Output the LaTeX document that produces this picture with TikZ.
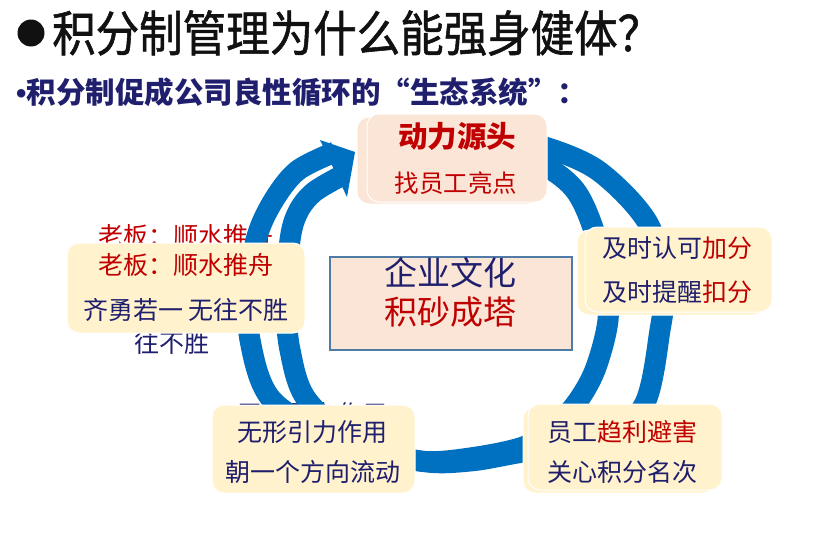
\documentclass[tikz,border=0pt]{standalone}
\usepackage{fontspec}
\usepackage{graphicx}
\setmainfont{Noto Sans CJK SC}
\newfontfamily\titlefont[FakeBold=1.2]{Noto Sans CJK SC}
\newfontfamily\latinfont{Liberation Sans}
\definecolor{ringblue}{HTML}{0070C0}
\definecolor{navy}{HTML}{1F1F6E}
\definecolor{dred}{HTML}{C00000}
\definecolor{peach}{HTML}{FBE5D6}
\definecolor{cream}{HTML}{FFF2CC}
\definecolor{steel}{HTML}{4F7BA6}
\definecolor{titleblack}{HTML}{111111}
\tikzset{
  band/.style={draw=ringblue, line width=21pt},
  card/.style={rounded corners=12pt, draw=white, line width=1pt, inner sep=0pt},
  tx/.style={inner sep=0pt, font=\fontsize{25}{25}\selectfont},
}
\begin{document}
\begin{tikzpicture}[x=1pt,y=-1pt]
\useasboundingbox (0,0) rectangle (837,557);
% title
\fill[titleblack] (31,33) circle (13.5);
\node[anchor=west, inner sep=0pt, text=titleblack, font=\fontsize{43.5}{43.5}\titlefont] (title) at (52,33) {\scalebox{1}[1.12]{积分制管理为什么能强身健体？}};
\node[anchor=west, inner sep=0pt, text=navy, font=\fontsize{29.5}{29.5}\selectfont\bfseries] (sub) at (16,92) {{\latinfont •}积分制促成公司良性循环的“生态系统”：};
% hidden back texts
\node[tx, text=dred] (back1) at (185.5,236) {老板：顺水推舟};
\node[tx, text=navy] (back2) at (172,343) {往不胜};
\node[tx, text=navy] (back3) at (312,414) {无形引力作用};
% ring
\draw[band] plot[smooth, tension=0.55] coordinates {(520,145) (548,148) (600,172) (649,225) (663,290) (660,330) (644,405) (600,440) (523,452) (470,461) (420,461) (340,440) (272,400) (250,340) (250,290) (256,240) (272,203) (297,171) (335,152)};
\draw[band] plot[smooth, tension=0.55] coordinates {(520,162) (548,168) (575,190) (592,225) (605,275) (608,320) (595,370) (575,405) (550,430) (523,447) (470,458) (420,461) (360,445) (307,400) (290,350) (286,300) (290,240) (298,212) (314,192) (343,175)};
\fill[ringblue] (355,152) -- (320,140) -- (347,197) -- cycle;
% boxes
\node[card, fill=peach, minimum width=183pt, minimum height=87pt] (topback) at (448.5,160.5) {};
\node[card, fill=peach, minimum width=180pt, minimum height=88pt] (top) at (457,158) {};
\node[card, fill=cream, minimum width=188pt, minimum height=85pt] (rightback) at (671,272.5) {};
\node[card, fill=cream, minimum width=187pt, minimum height=85pt] (right) at (678.5,269.5) {};
\node[card, fill=cream, minimum width=192pt, minimum height=86pt] (brback) at (619,450) {};
\node[card, fill=cream, minimum width=194pt, minimum height=86pt] (br) at (625,447) {};
\node[card, fill=cream, minimum width=238pt, minimum height=90pt] (left) at (186,288) {};
\node[card, fill=cream, minimum width=203pt, minimum height=88pt] (bl) at (313.5,449) {};
\node[draw=steel, line width=1.6pt, fill=peach, minimum width=242pt, minimum height=93pt, inner sep=0pt] (center) at (451,303.5) {};
% texts
\node[tx, text=dred, font=\fontsize{29.5}{29.5}\selectfont\bfseries] (t1) at (457,136) {动力源头};
\node[tx, text=dred, font=\fontsize{24.5}{24.5}\selectfont] (t2) at (456,183) {找员工亮点};
\node[tx, text=navy] (r1) at (677,248) {及时认可\textcolor{dred}{加分}};
\node[tx, text=navy] (r2) at (677,292) {及时提醒\textcolor{dred}{扣分}};
\node[tx, text=dred] (l1) at (185.5,265) {老板：顺水推舟};
\node[tx, text=navy] (l2) at (186,310) {齐勇若一 无往不胜};
\node[tx, text=navy] (b1) at (312,432) {无形引力作用};
\node[tx, text=navy] (b2) at (313,472) {朝一个方向流动};
\node[tx, text=navy] (c1) at (622,432) {员工\textcolor{dred}{趋利避害}};
\node[tx, text=navy] (c2) at (622,472) {关心积分名次};
\node[tx, text=navy, font=\fontsize{33}{33}\selectfont] (m1) at (450,273) {企业文化};
\node[tx, text=dred, font=\fontsize{33}{33}\selectfont] (m2) at (450,312) {积砂成塔};
\end{tikzpicture}
\end{document}
